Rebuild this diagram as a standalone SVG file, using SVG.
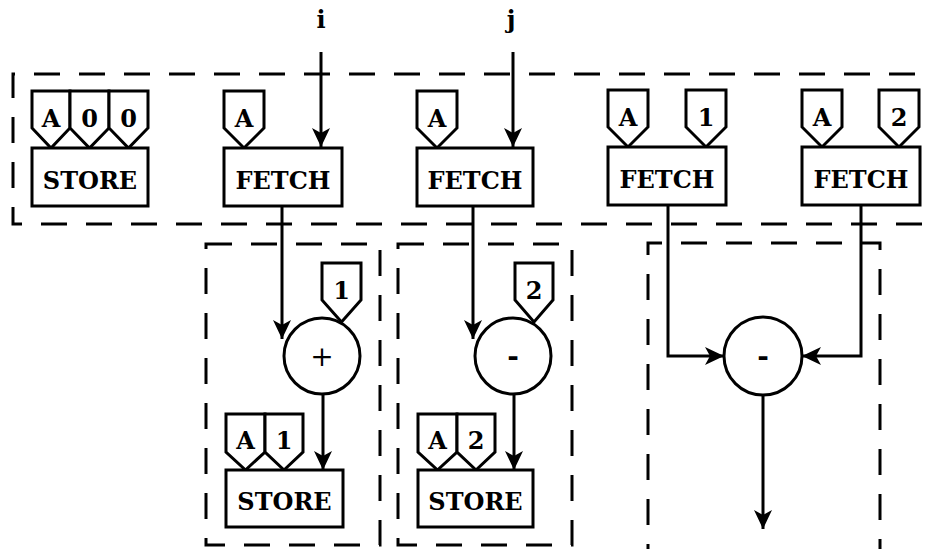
<svg xmlns="http://www.w3.org/2000/svg" width="932" height="549" viewBox="0 0 932 549">
<style>
.box{fill:#fff;stroke:#000;stroke-width:3}
.tag{fill:#fff;stroke:#000;stroke-width:3;stroke-linejoin:miter}
.dash{fill:none;stroke:#000;stroke-width:3;stroke-dasharray:26 19}
.wire{fill:none;stroke:#000;stroke-width:3}
.t{font-family:"DejaVu Serif","Liberation Serif",serif;font-weight:bold;font-size:24px;text-anchor:middle}
.op{font-family:"DejaVu Serif","Liberation Serif",serif;font-size:28px;text-anchor:middle}
</style>
<defs>
<marker id="ah" markerUnits="userSpaceOnUse" markerWidth="20" markerHeight="18" refX="19" refY="9" orient="auto">
<path d="M0,0 L19,9 L0,18 L5,9 z" fill="#000"/>
</marker>
</defs>

<g id="regions">
<path class="dash" d="M960 74 H13 V224 H960"/>
<rect class="dash" x="206" y="244" width="174" height="301"/>
<rect class="dash" x="398" y="244" width="174" height="301"/>
<path class="dash" d="M648 570 V243 H880 V570"/>
</g>

<g id="connectors">
<line class="wire" x1="321" y1="52" x2="321" y2="147" marker-end="url(#ah)"/>
<line class="wire" x1="513" y1="52" x2="513" y2="147" marker-end="url(#ah)"/>
<line class="wire" x1="282" y1="206" x2="282" y2="339" marker-end="url(#ah)"/>
<line class="wire" x1="473" y1="206" x2="473" y2="339" marker-end="url(#ah)"/>
<line class="wire" x1="323" y1="395" x2="323" y2="470" marker-end="url(#ah)"/>
<line class="wire" x1="514" y1="395" x2="514" y2="470" marker-end="url(#ah)"/>
<path class="wire" d="M668 206 V356 H724" marker-end="url(#ah)"/>
<path class="wire" d="M861 206 V356 H802" marker-end="url(#ah)"/>
<line class="wire" x1="763" y1="395" x2="763" y2="529" marker-end="url(#ah)"/>
</g>

<g id="label-i"><text class="t" x="321" y="28">i</text></g>
<g id="label-j"><text class="t" x="511" y="28">j</text></g>

<g id="store0">
<path class="tag" d="M32 91 H70 V128 L51 148 L32 128 Z"/>
<path class="tag" d="M70 91 H109 V128 L89.5 148 L70 128 Z"/>
<path class="tag" d="M109 91 H148 V128 L128.5 148 L109 128 Z"/>
<text class="t" x="51" y="127">A</text>
<text class="t" x="89.5" y="127">0</text>
<text class="t" x="128.5" y="127">0</text>
<rect class="box" x="32" y="148" width="116" height="58"/>
<text class="t" x="90" y="189">STORE</text>
</g>

<g id="fetch1">
<path class="tag" d="M224 91 H264 V128 L244 148 L224 128 Z"/>
<text class="t" x="244" y="127">A</text>
<rect class="box" x="224" y="148" width="118" height="58"/>
<text class="t" x="283" y="189">FETCH</text>
</g>

<g id="fetch2">
<path class="tag" d="M417 91 H457 V128 L437 148 L417 128 Z"/>
<text class="t" x="437" y="127">A</text>
<rect class="box" x="417" y="148" width="116" height="58"/>
<text class="t" x="475" y="189">FETCH</text>
</g>

<g id="fetch3">
<path class="tag" d="M608 90 H648 V127 L628 147 L608 127 Z"/>
<path class="tag" d="M686 90 H726 V127 L706 147 L686 127 Z"/>
<text class="t" x="628" y="126">A</text>
<text class="t" x="706" y="126">1</text>
<rect class="box" x="608" y="147" width="118" height="58"/>
<text class="t" x="667" y="188">FETCH</text>
</g>

<g id="fetch4">
<path class="tag" d="M802 90 H842 V127 L822 147 L802 127 Z"/>
<path class="tag" d="M879 90 H919 V127 L899 147 L879 127 Z"/>
<text class="t" x="822" y="126">A</text>
<text class="t" x="899" y="126">2</text>
<rect class="box" x="802" y="147" width="118" height="58"/>
<text class="t" x="861" y="188">FETCH</text>
</g>

<g id="add">
<path class="tag" d="M322 263 H361 V300 L341.5 322 L322 300 Z"/>
<text class="t" x="341.5" y="299">1</text>
<circle class="box" cx="322" cy="356" r="38"/>
<text class="op" x="322" y="366">+</text>
</g>

<g id="sub1">
<path class="tag" d="M515 263 H553 V300 L534 322 L515 300 Z"/>
<text class="t" x="534" y="299">2</text>
<circle class="box" cx="513" cy="356" r="38"/>
<text class="op" x="513" y="366" font-weight="bold">-</text>
</g>

<g id="store1">
<path class="tag" d="M226 414 H265 V452 L245.5 470 L226 452 Z"/>
<path class="tag" d="M265 414 H303 V452 L284 470 L265 452 Z"/>
<text class="t" x="245.5" y="449">A</text>
<text class="t" x="284" y="449">1</text>
<rect class="box" x="226" y="470" width="117" height="57"/>
<text class="t" x="284.5" y="510">STORE</text>
</g>

<g id="store2">
<path class="tag" d="M418 414 H457 V452 L437.5 470 L418 452 Z"/>
<path class="tag" d="M457 414 H495 V452 L476 470 L457 452 Z"/>
<text class="t" x="437.5" y="449">A</text>
<text class="t" x="476" y="449">2</text>
<rect class="box" x="418" y="470" width="115" height="57"/>
<text class="t" x="475.5" y="510">STORE</text>
</g>

<g id="sub2">
<circle class="box" cx="763" cy="356" r="39"/>
<text class="op" x="763" y="366" font-weight="bold">-</text>
</g>
</svg>
